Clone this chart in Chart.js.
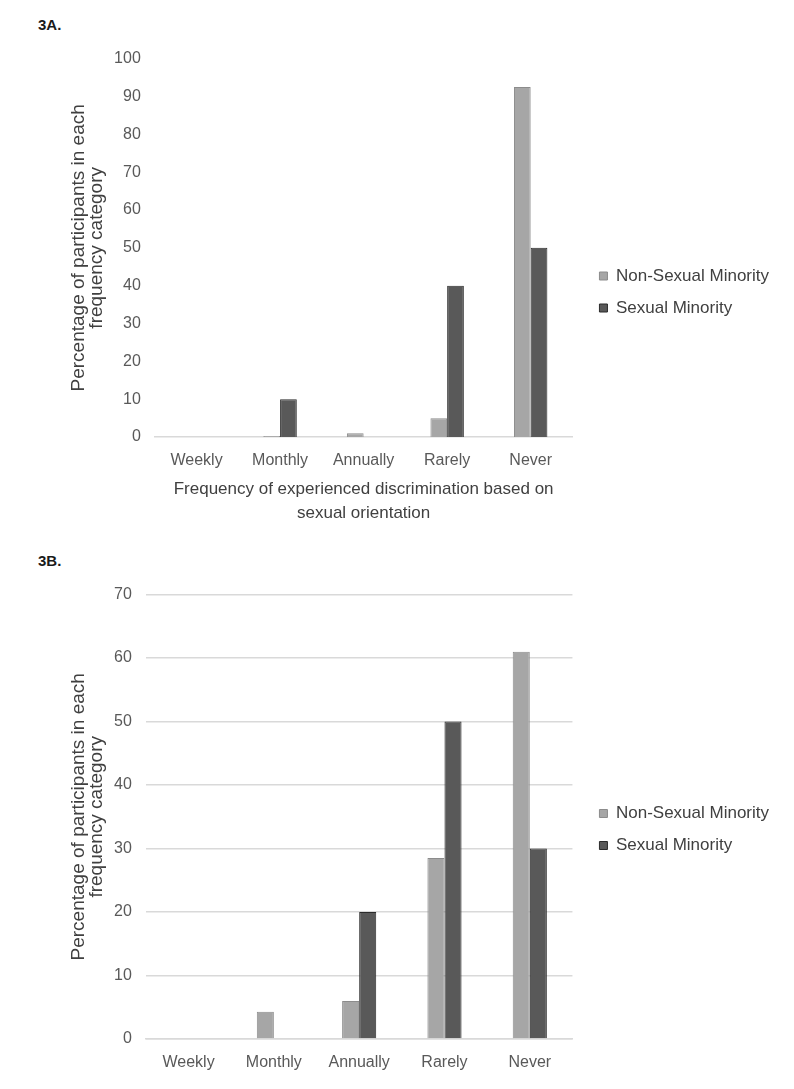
<!DOCTYPE html>
<html>
  <head>
    <meta charset="UTF-8">
    <title>Figure 3 - Frequency of experienced discrimination</title>
    <script src="https://cdn.jsdelivr.net/npm/chart.js"></script>
    <style>
  body {
    margin: 0;
    background: #ffffff;
    font-family: "Liberation Sans", Arial, sans-serif;
  }
  .panel-label {
    position: absolute;
    left: 38px;
    font-size: 15px;
    font-weight: bold;
    color: #1a1a1a;
  }
  .chart-box {
    position: absolute;
    left: 0;
    width: 794px;
  }
</style>
  </head>
  <body>
    <div class="panel-label" style="top: 16px;">3A.</div>
    <div class="chart-box" style="top: 35px; height: 495px;">
      <canvas id="chartA"></canvas>
    </div>
    <div class="panel-label" style="top: 552px;">3B.</div>
    <div class="chart-box" style="top: 571px; height: 516px;">
      <canvas id="chartB"></canvas>
    </div>
    <script>
    // Categories and series (percent of participants)
    const categories = ['Weekly', 'Monthly', 'Annually', 'Rarely', 'Never'];
    const seriesNames = ['Non-Sexual Minority', 'Sexual Minority'];

    // 3A: discrimination based on sexual orientation
    const nonMinorityA = [0, 0.3, 1, 5, 92.5];
    const minorityA = [0, 10, 0, 40, 50];

    // 3B
    const nonMinorityB = [0, 4.3, 6, 28.5, 61];
    const minorityB = [0, 0, 20, 50, 30];

    const yTitle = ['Percentage of participants in each', 'frequency category'];
    const xTitleA = ['Frequency of experienced discrimination based on', 'sexual orientation'];

    const fontFamily = '"Liberation Sans", Arial, sans-serif';
    const lightFill = '#a6a6a6', lightBorder = '#8c8c8c';
    const darkFill = '#595959', darkBorder = '#2b2b2b';

    // nudges the legend away from the plot area (right edge gets extra room so text isn't clipped)
    const legendShift = {
      id: 'legendShift',
      afterLayout(chart, args, opts) {
        chart.legend.left += opts.dx;
        chart.legend.right += opts.dx + 20;
        chart.legend.top += opts.dy;
        chart.legend.bottom += opts.dy;
      }
    };

    function makeDatasets(light, dark) {
      return [
        { label: seriesNames[0], data: light, backgroundColor: lightFill, borderColor: lightBorder, borderWidth: 1 },
        { label: seriesNames[1], data: dark, backgroundColor: darkFill, borderColor: darkBorder, borderWidth: 1 }
      ];
    }

    function makeOptions(cfg) {
      return {
        responsive: true,
        maintainAspectRatio: false,
        animation: false,
        datasets: { bar: { categoryPercentage: 0.4, barPercentage: 1 } },
        layout: { padding: cfg.padding },
        plugins: {
          legendShift: { dx: 12, dy: cfg.legendDy },
          tooltip: { enabled: false },
          legend: {
            position: 'right',
            maxWidth: 220,
            labels: {
              boxWidth: 8, boxHeight: 8, padding: 15,
              color: '#404040',
              font: { family: fontFamily, size: 17 }
            }
          }
        },
        scales: {
          x: {
            grid: { display: false, drawTicks: false },
            border: { display: true, color: '#d9d9d9', width: 1.5 },
            ticks: { color: '#595959', padding: 16, font: { family: fontFamily, size: 16, lineHeight: 1.0 } },
            title: cfg.xTitle ? {
              display: true, text: cfg.xTitle, color: '#404040',
              padding: { top: -8, bottom: 0 },
              font: { family: fontFamily, size: 17, lineHeight: 1.41 }
            } : { display: false }
          },
          y: {
            min: 0, max: cfg.max,
            ticks: { stepSize: 10, color: '#595959', padding: 14, font: { family: fontFamily, size: 16 } },
            grid: { display: cfg.grid, color: '#d9d9d9', lineWidth: 1.5, drawTicks: false },
            border: { display: false },
            title: {
              display: true, text: yTitle, color: '#404040',
              padding: { top: 0, bottom: -6 },
              font: { family: fontFamily, size: 19, lineHeight: 0.95 }
            }
          }
        }
      };
    }

    new Chart(document.getElementById('chartA'), {
      type: 'bar',
      data: { labels: categories, datasets: makeDatasets(nonMinorityA, minorityA) },
      options: makeOptions({ max: 100, grid: false, xTitle: xTitleA, legendDy: 11,
        padding: { top: 2, left: 70, right: 27, bottom: 5 } }),
      plugins: [legendShift]
    });

    new Chart(document.getElementById('chartB'), {
      type: 'bar',
      data: { labels: categories, datasets: makeDatasets(nonMinorityB, minorityB) },
      options: makeOptions({ max: 70, grid: true, xTitle: null, legendDy: -2,
        padding: { top: 5, left: 70, right: 27, bottom: 0 } }),
      plugins: [legendShift]
    });
  </script>
  </body>
</html>
